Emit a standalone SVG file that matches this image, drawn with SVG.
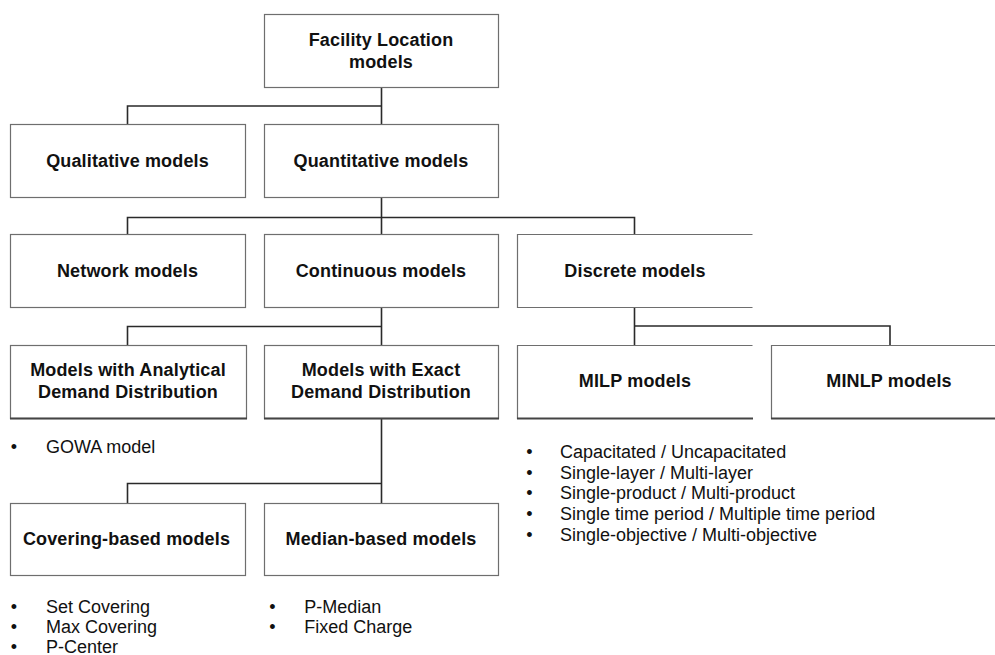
<svg xmlns="http://www.w3.org/2000/svg" width="995" height="655" viewBox="0 0 995 655">
<style>
.box{fill:#fff;stroke:#6e6e6e;stroke-width:1.2}
.conn{fill:none;stroke:#2a2a2a;stroke-width:1.6}
.t{font-family:"Liberation Sans",Arial,sans-serif;font-size:18px;font-weight:bold;fill:#111;text-anchor:middle;letter-spacing:0.15px}
.b{font-family:"Liberation Sans",Arial,sans-serif;font-size:18px;fill:#111}
.dot{font-family:"Liberation Sans",Arial,sans-serif;font-size:18px;fill:#111;text-anchor:middle}
.bot{stroke:#444;stroke-width:2.2}
</style>
<rect width="995" height="655" fill="#fff"/>
<g id="connectors">
<path class="conn" d="M381.5,87.5 V124.5 M127.5,124.5 V106 H381.5"/>
<path class="conn" d="M381.5,197.5 V234.5 M127.5,234.5 V217.5 H634.5 V234.5"/>
<path class="conn" d="M381.5,307.5 V345.5 M127.5,345.5 V326.5 H381.5"/>
<path class="conn" d="M634.5,307.5 V345.5 M634.5,326 H890 V345.5"/>
<path class="conn" d="M381.5,418.5 V503.5 M127.5,503.5 V483.5 H381.5"/>
</g>
<g id="facility">
<rect class="box" x="264.5" y="14.5" width="234" height="73"/>
<text class="t" x="381" y="45.5">Facility Location</text>
<text class="t" x="381" y="68">models</text>
</g>
<g id="qualitative">
<rect class="box" x="10.5" y="124.5" width="235" height="73"/>
<text class="t" x="127.5" y="166.5">Qualitative models</text>
</g>
<g id="quantitative">
<rect class="box" x="264.5" y="124.5" width="234" height="73"/>
<text class="t" x="381" y="166.5">Quantitative models</text>
</g>
<g id="network">
<rect class="box" x="10.5" y="234.5" width="235" height="73"/>
<text class="t" x="127.5" y="277.3">Network models</text>
</g>
<g id="continuous">
<rect class="box" x="264.5" y="234.5" width="234" height="73"/>
<text class="t" x="381" y="277.3">Continuous models</text>
</g>
<g id="discrete">
<path class="box" d="M752.5,234.5 H517.5 V307.5 H752.5"/>
<text class="t" x="635" y="277.3">Discrete models</text>
</g>
<g id="analytical">
<rect class="box" x="10.5" y="345.5" width="236" height="73"/>
<line class="bot" x1="10" y1="418.5" x2="247" y2="418.5"/>
<text class="t" x="128" y="376">Models with Analytical</text>
<text class="t" x="128" y="398.3">Demand Distribution</text>
<text class="dot" x="14" y="452.7">•</text>
<text class="b" x="46" y="452.7">GOWA model</text>
</g>
<g id="exact">
<rect class="box" x="264.5" y="345.5" width="234" height="73"/>
<line class="bot" x1="264" y1="418.5" x2="499" y2="418.5"/>
<text class="t" x="381" y="376">Models with Exact</text>
<text class="t" x="381" y="398.3">Demand Distribution</text>
</g>
<g id="milp">
<path class="box" d="M752.5,345.5 H517.5 V418.5 H752.5"/>
<line class="bot" x1="517" y1="418.5" x2="753" y2="418.5"/>
<text class="t" x="635" y="386.7">MILP models</text>
<text class="dot" x="529.3" y="458">•</text>
<text class="b" x="560" y="458">Capacitated / Uncapacitated</text>
<text class="dot" x="529.3" y="478.7">•</text>
<text class="b" x="560" y="478.7">Single-layer / Multi-layer</text>
<text class="dot" x="529.3" y="499.4">•</text>
<text class="b" x="560" y="499.4">Single-product / Multi-product</text>
<text class="dot" x="529.3" y="520.2">•</text>
<text class="b" x="560" y="520.2">Single time period / Multiple time period</text>
<text class="dot" x="529.3" y="541">•</text>
<text class="b" x="560" y="541">Single-objective / Multi-objective</text>
</g>
<g id="minlp">
<path class="box" d="M1000,345.5 H771.5 V418.5 H1000"/>
<line class="bot" x1="771" y1="418.5" x2="995" y2="418.5"/>
<text class="t" x="889" y="386.7">MINLP models</text>
</g>
<g id="covering">
<rect class="box" x="10.5" y="503.5" width="235" height="72"/>
<text class="t" x="126.5" y="545">Covering-based models</text>
<text class="dot" x="14" y="612.5">•</text>
<text class="b" x="46" y="612.5">Set Covering</text>
<text class="dot" x="14" y="632.8">•</text>
<text class="b" x="46" y="632.8">Max Covering</text>
<text class="dot" x="14" y="652.8">•</text>
<text class="b" x="46" y="652.8">P-Center</text>
</g>
<g id="median">
<rect class="box" x="264.5" y="503.5" width="234" height="72"/>
<text class="t" x="381" y="545">Median-based models</text>
<text class="dot" x="272.3" y="612.5">•</text>
<text class="b" x="304.3" y="612.5">P-Median</text>
<text class="dot" x="272.3" y="632.8">•</text>
<text class="b" x="304.3" y="632.8">Fixed Charge</text>
</g>
</svg>
